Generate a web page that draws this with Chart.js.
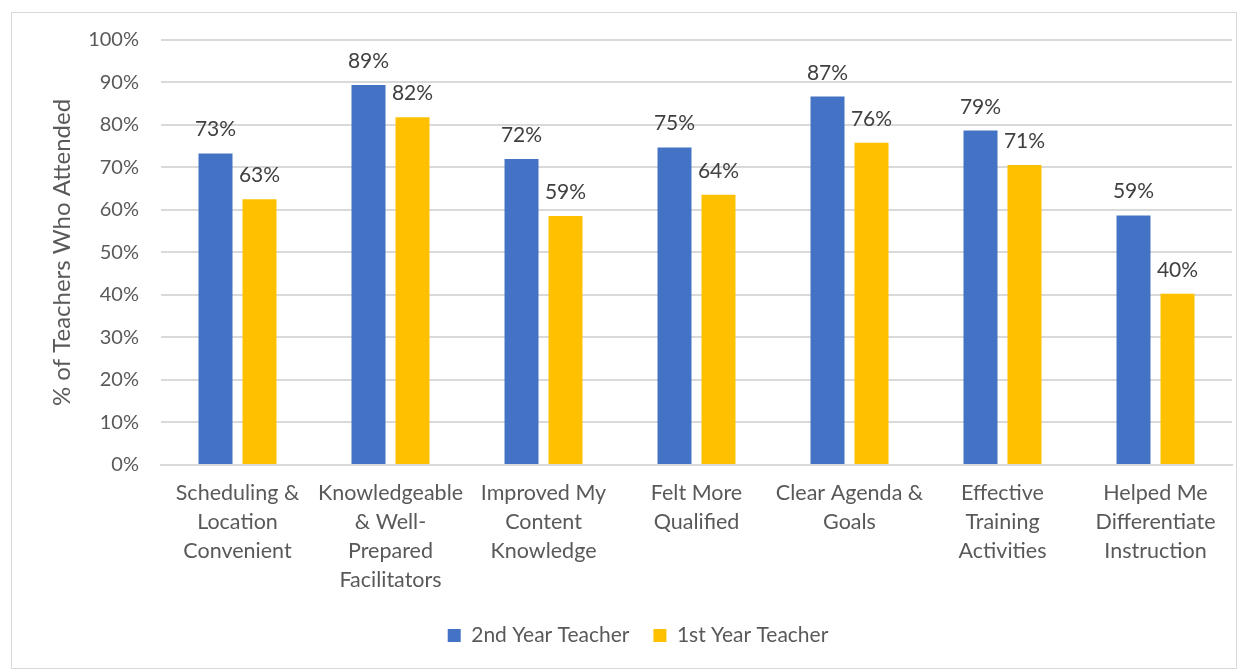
<!DOCTYPE html>
<html>
<head>
<meta charset="utf-8">
<script src="https://cdn.jsdelivr.net/npm/chart.js@4/dist/chart.umd.min.js"></script>
<style>
  html, body { margin: 0; padding: 0; background: #fff; }
  #wrap { width: 1248px; height: 669px; }
</style>
</head>
<body>
<div id="wrap"><canvas id="myChart"></canvas></div>
<script>
// データ
const categories = [
  ['Scheduling &', 'Location', 'Convenient'],
  ['Knowledgeable', '& Well-', 'Prepared', 'Facilitators'],
  ['Improved My', 'Content', 'Knowledge'],
  ['Felt More', 'Qualified'],
  ['Clear Agenda &', 'Goals'],
  ['Effective', 'Training', 'Activities'],
  ['Helped Me', 'Differentiate', 'Instruction'],
];
const secondYear = [73.3, 89.4, 72.0, 74.7, 86.7, 78.7, 58.7];
const firstYear = [62.5, 81.8, 58.6, 63.6, 75.8, 70.6, 40.3];
const seriesNames = ['2nd Year Teacher', '1st Year Teacher'];

const FONT = 'Lato';

// 外枠
const borderPlugin = {
  id: 'outer-border',
  beforeDraw: function (chart) {
    const ctx = chart.ctx;
    ctx.save();
    ctx.fillStyle = 'white';
    ctx.fillRect(0, 0, chart.width, chart.height);
    ctx.strokeStyle = '#d9d9d9';
    ctx.lineWidth = 1;
    ctx.strokeRect(11.5, 12.5, chart.width - 23, chart.height - 13);
    ctx.restore();
  }
};

// 棒の上のラベル
const valueLabelPlugin = {
  id: 'value-labels',
  afterDatasetsDraw: function (chart) {
    const ctx = chart.ctx;
    ctx.save();
    ctx.font = '21px ' + FONT;
    ctx.fillStyle = '#404040';
    ctx.textAlign = 'center';
    ctx.textBaseline = 'alphabetic';
    chart.data.datasets.forEach(function (dataset, i) {
      const meta = chart.getDatasetMeta(i);
      meta.data.forEach(function (bar, index) {
        const text = Math.round(dataset.data[index]) + '%';
        ctx.fillText(text, bar.x, bar.y - 17);
      });
    });
    ctx.restore();
  }
};

new Chart(document.getElementById('myChart'), {
  type: 'bar',
  data: {
    labels: categories,
    datasets: [
      {
        label: seriesNames[0],
        data: secondYear,
        backgroundColor: '#4472c4',
        categoryPercentage: 0.575,
        barPercentage: 0.773,
      },
      {
        label: seriesNames[1],
        data: firstYear,
        backgroundColor: '#ffc000',
        categoryPercentage: 0.575,
        barPercentage: 0.773,
      },
    ],
  },
  options: {
    responsive: true,
    maintainAspectRatio: false,
    animation: false,
    layout: { padding: { left: 44, right: 16, top: 40, bottom: 13 } },
    plugins: {
      legend: {
        position: 'bottom',
        labels: {
          boxWidth: 13,
          boxHeight: 13,
          padding: 24,
          color: '#595959',
          font: { family: FONT, size: 21 },
        },
      },
      tooltip: { enabled: false },
    },
    scales: {
      x: {
        grid: { display: false },
        border: { color: '#d9d9d9', width: 2 },
        ticks: {
          color: '#595959',
          maxRotation: 0,
          autoSkip: false,
          padding: 6,
          font: { family: FONT, size: 21.5, lineHeight: 1.35 },
        },
      },
      y: {
        min: 0,
        max: 100,
        afterFit: function (scale) { scale.width = 117; },
        ticks: {
          stepSize: 10,
          color: '#595959',
          padding: 22,
          font: { family: FONT, size: 20 },
          callback: function (v) { return v + '%'; },
        },
        grid: { color: '#d9d9d9', lineWidth: 2, drawTicks: false },
        border: { display: false },
        title: {
          display: true,
          text: '% of Teachers Who Attended',
          color: '#595959',
          font: { family: FONT, size: 24 },
          padding: { top: 4, bottom: 10 },
        },
      },
    },
  },
  plugins: [borderPlugin, valueLabelPlugin],
});
</script>
</body>
</html>
